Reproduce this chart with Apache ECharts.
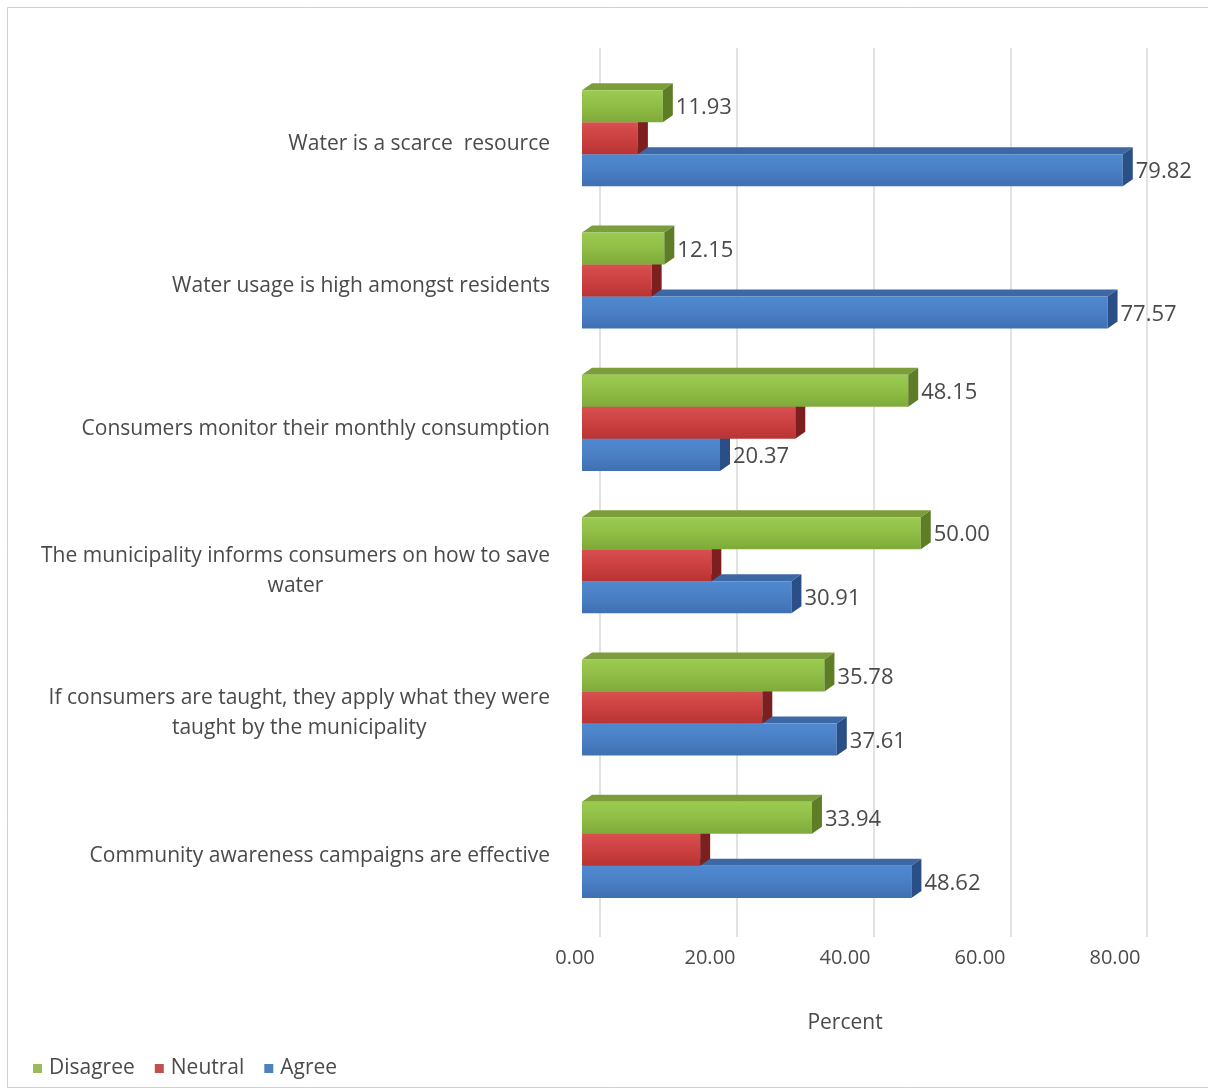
<!DOCTYPE html>
<html><head><meta charset="utf-8">
<script src="https://cdn.jsdelivr.net/npm/echarts@6/dist/echarts.min.js"></script>
<style>html,body{margin:0;padding:0;background:#fff}#c{width:1208px;height:1091px}</style>
</head><body><div id="c"></div>
<script>
const categories = [
  'Water is a scarce  resource',
  'Water usage is high amongst residents',
  'Consumers monitor their monthly consumption',
  'The municipality informs consumers on how to save\nwater',
  'If consumers are taught, they apply what they were\ntaught by the municipality',
  'Community awareness campaigns are effective'
];
const disagree = [11.93, 12.15, 48.15, 50.00, 35.78, 33.94];
const neutral  = [8.25, 10.28, 31.48, 19.09, 26.61, 17.44];
const agree    = [79.82, 77.57, 20.37, 30.91, 37.61, 48.62];
const xTicks = [0, 20, 40, 60, 80];

const FONT = '"Open Sans", Lato, sans-serif';
const TXT = '#4a4a4a';

function render(offsetFrac, pal, showLabel) {
  return function (params, api) {
    const v = api.value(0), ci = api.value(1);
    const p0 = api.coord([0, ci]);
    const p1 = api.coord([v, ci]);
    const band = api.size([0, 1])[1];
    const h = band * 0.225;
    const cy = p0[1] + band * offsetFrac;
    const x0 = p0[0], x1 = p1[0], y0 = cy - h / 2, y1 = cy + h / 2;
    const dx = 10, dy = -7;
    const children = [
      { type: 'polygon', shape: { points: [[x0, y0], [x1, y0], [x1 + dx, y0 + dy], [x0 + dx, y0 + dy]] },
        style: { fill: pal.top } },
      { type: 'rect', shape: { x: x0, y: y0, width: x1 - x0, height: h },
        style: { fill: new echarts.graphic.LinearGradient(0, 0, 0, 1, [
          { offset: 0, color: pal.f1 }, { offset: 0.5, color: pal.f2 }, { offset: 1, color: pal.f3 }]) } },
      { type: 'polygon', shape: { points: [[x1, y0], [x1 + dx, y0 + dy], [x1 + dx, y1 + dy], [x1, y1]] },
        style: { fill: pal.side } }
    ];
    if (showLabel) {
      children.push({ type: 'text', style: { text: v.toFixed(2), x: x1 + dx + 3, y: cy + 2,
        verticalAlign: 'middle', align: 'left', fill: TXT, font: '22px ' + FONT } });
    }
    return { type: 'group', children: children };
  };
}

const green = { f1: '#9ccb52', f2: '#8fbd45', f3: '#7faa3a', top: '#7c9e3a', side: '#5d7e27' };
const red   = { f1: '#d85050', f2: '#cc4040', f3: '#b83434', top: '#a83232', side: '#7e1f1f' };
const blue  = { f1: '#5089d0', f2: '#4a7fc4', f3: '#3f70b2', top: '#3c69a6', side: '#2a4f86' };

const toData = arr => arr.map((v, i) => [v, i]);

const chart = echarts.init(document.getElementById('c'), null, { renderer: 'canvas' });
chart.setOption({
  backgroundColor: '#fff',
  animation: false,
  graphic: [{ type: 'rect', shape: { x: 7.5, y: 7.5, width: 1210, height: 1080 },
    style: { fill: 'none', stroke: '#d0d0d0', lineWidth: 1 }, silent: true }],
  legend: {
    data: ['Disagree', 'Neutral', 'Agree'],
    left: 28, top: 1053, icon: 'rect', itemWidth: 9, itemHeight: 9, itemGap: 20,
    textStyle: { fontFamily: FONT, fontSize: 21, color: TXT, padding: [0, 0, 0, 2] }
  },
  grid: [
    { left: 582, width: 542, top: 73, height: 854 },
    { left: 600, width: 547, top: 48, height: 889 },
    { left: 575, width: 540, top: 48, height: 892 }
  ],
  xAxis: [
    { gridIndex: 0, type: 'value', min: 0, max: 80, interval: 20, show: false },
    { gridIndex: 1, type: 'value', min: 0, max: 80, interval: 20,
      axisLine: { show: false }, axisTick: { show: false }, axisLabel: { show: false },
      splitLine: { show: true, lineStyle: { color: '#d9d9d9', width: 1.5 } } },
    { gridIndex: 2, type: 'value', min: 0, max: 80, interval: 20,
      axisLine: { show: false }, axisTick: { show: false }, splitLine: { show: false },
      axisLabel: { margin: 8, fontFamily: FONT, fontSize: 20, color: TXT,
        formatter: v => v.toFixed(2) },
      name: 'Percent', nameLocation: 'middle', nameGap: 73,
      nameTextStyle: { fontFamily: FONT, fontSize: 21, color: TXT } }
  ],
  yAxis: [
    { gridIndex: 0, type: 'category', data: categories, inverse: true,
      axisLine: { show: false }, axisTick: { show: false }, splitLine: { show: false },
      axisLabel: { margin: 32, fontFamily: FONT, fontSize: 21, color: TXT, lineHeight: 30,
        formatter: v => v.split('\n').map(l => '{c|' + l + '}').join('\n'),
        rich: { c: { align: 'center', fontFamily: FONT, fontSize: 21, color: TXT, lineHeight: 30 } } } },
    { gridIndex: 1, type: 'value', show: false },
    { gridIndex: 2, type: 'value', show: false }
  ],
  series: [
    { name: 'Agree', type: 'custom', xAxisIndex: 0, yAxisIndex: 0, itemStyle: { color: '#4f81bd' },
      encode: { x: 0, y: 1 }, data: toData(agree), renderItem: render(0.183, blue, true), z: 2 },
    { name: 'Neutral', type: 'custom', xAxisIndex: 0, yAxisIndex: 0, itemStyle: { color: '#c0504d' },
      encode: { x: 0, y: 1 }, data: toData(neutral), renderItem: render(-0.042, red, false), z: 3 },
    { name: 'Disagree', type: 'custom', xAxisIndex: 0, yAxisIndex: 0, itemStyle: { color: '#9bbb59' },
      encode: { x: 0, y: 1 }, data: toData(disagree), renderItem: render(-0.267, green, true), z: 4 }
  ]
});
</script></body></html>
